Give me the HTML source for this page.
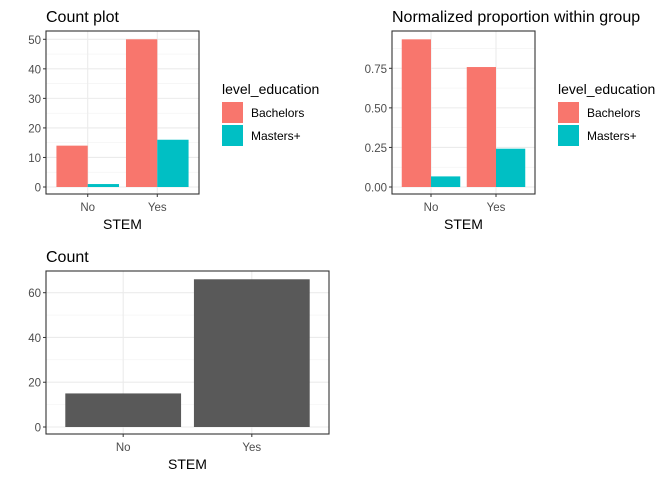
<!DOCTYPE html>
<html><head><meta charset="utf-8"><style>
body{margin:0;background:#fff;width:672px;height:480px;overflow:hidden}
svg{display:block;font-family:"Liberation Sans",Arial,sans-serif}
</style></head><body>
<svg id="c" width="672" height="480"></svg>
<script>
const categories = ["No","Yes"];
const groups = ["Bachelors","Masters+"];
const countBachelors = [14, 50];
const countMasters = [1, 16];
const propBachelors = [0.933, 0.758];
const propMasters = [0.067, 0.242];
const countTotal = [15, 66];
const countTicks = [0,10,20,30,40,50];
const propTicks = [0,0.25,0.5,0.75];
const propTickLabels = ["0.00","0.25","0.50","0.75"];
const totalTicks = [0,20,40,60];
const colors = ["#F8766D","#00BFC4"];

const svg = document.getElementById('c');
const NS = "http://www.w3.org/2000/svg";
function mk(tag, attrs, parent, text){
  const e = document.createElementNS(NS, tag);
  for (const k in attrs) e.setAttribute(k, attrs[k]);
  if (text !== undefined) e.textContent = text;
  (parent||svg).appendChild(e);
  return e;
}

function panel(o){
  const g = mk('g', {});
  
  
  const y = v => o.y0 - (v - 0) * (o.y0 - o.yRef) / o.refVal;
  const bandW = (o.x1 - o.x0) / (categories.length + 0.2);
  const xc = i => o.x0 + bandW * (0.6 + i);
  for (let i = 0; i < o.ticks.length; i++) {
    const mid = i < o.ticks.length - 1 ? (o.ticks[i] + o.ticks[i+1]) / 2 : o.ticks[i] + (o.ticks[1]-o.ticks[0]) / 2;
    if (y(mid) > o.top) { const l = mk('line', {x1:o.x0, x2:o.x1, y1:y(mid), y2:y(mid), stroke:'#f2f2f2', 'stroke-width':0.6}, g);
        }
  }
  o.ticks.forEach((t, i) => {
    const l = mk('line', {x1:o.x0, x2:o.x1, y1:y(t), y2:y(t), stroke:'#ebebeb', 'stroke-width':1.1}, g);
     
    const tx = mk('text', {x:o.x0-5, y:y(t)+4.5, 'text-anchor':'end', 'font-size':11.5, fill:'#4d4d4d'}, g, o.labels[i]);
     
    mk('line', {x1:o.x0-3, x2:o.x0, y1:y(t), y2:y(t), stroke:'#333', 'stroke-width':1}, g);
  });
  categories.forEach((c, i) => {
    const l = mk('line', {x1:xc(i), x2:xc(i), y1:o.top, y2:o.bottom, stroke:'#ebebeb', 'stroke-width':1.1}, g);
     
    mk('line', {x1:xc(i), x2:xc(i), y1:o.bottom, y2:o.bottom+3, stroke:'#333'}, g);
    const tx = mk('text', {x:xc(i), y:o.bottom+17, 'text-anchor':'middle', 'font-size':11.5, fill:'#4d4d4d'}, g, c);
     
  });
  const bw = bandW * 0.9;
  o.series.forEach((s, si) => {
    const w = bw / o.series.length;
    s.forEach((v, i) => {
      const r = mk('rect', {x: xc(i) - bw/2 + si*w, y: y(v), width: w, height: y(0) - y(v), fill: o.colors[si]}, g);
      
      
    });
  });
  const b = mk('rect', {x:o.x0, y:o.top, width:o.x1-o.x0, height:o.bottom-o.top, fill:'none', stroke:'#333', 'stroke-width':1.1}, g);
   
  const tt = mk('text', {x:o.x0, y:o.top-9, 'font-size':16, fill:'#000'}, g, o.title);
   
  const xt = mk('text', {x:(o.x0+o.x1)/2, y:o.bottom+35, 'text-anchor':'middle', 'font-size':14, fill:'#000'}, g, 'STEM');
   
  if (o.legendX) {
    const lg = mk('g', {}, g);
     
    const lt = mk('text', {x:o.legendX, y:94, 'font-size':14, fill:'#000'}, lg, 'level_education');
     
    groups.forEach((gname, i) => {
      const k = mk('rect', {x:o.legendX, y:102+i*23, width:21, height:21, fill:colors[i]}, lg);
       
      const t = mk('text', {x:o.legendX+29, y:117+i*23, 'font-size':12, fill:'#000'}, lg, gname);
       
    });
  }
}

panel({name:'count-plot', title:'Count plot', x0:46, x1:199, top:31, bottom:194, y0:187, yRef:39.3, refVal:50,
  ticks:countTicks, labels:countTicks.map(String), series:[countBachelors, countMasters], colors:colors, legendX:222});
panel({name:'proportion-plot', title:'Normalized proportion within group', x0:392, x1:535, top:31, bottom:194, y0:187, yRef:68.3, refVal:0.75,
  ticks:propTicks, labels:propTickLabels, series:[propBachelors, propMasters], colors:colors, legendX:558});
panel({name:'total-count-plot', title:'Count', x0:46, x1:329, top:271, bottom:434, y0:427, yRef:292.7, refVal:60,
  ticks:totalTicks, labels:totalTicks.map(String), series:[countTotal], colors:['#595959']});
</script>
</body></html>
